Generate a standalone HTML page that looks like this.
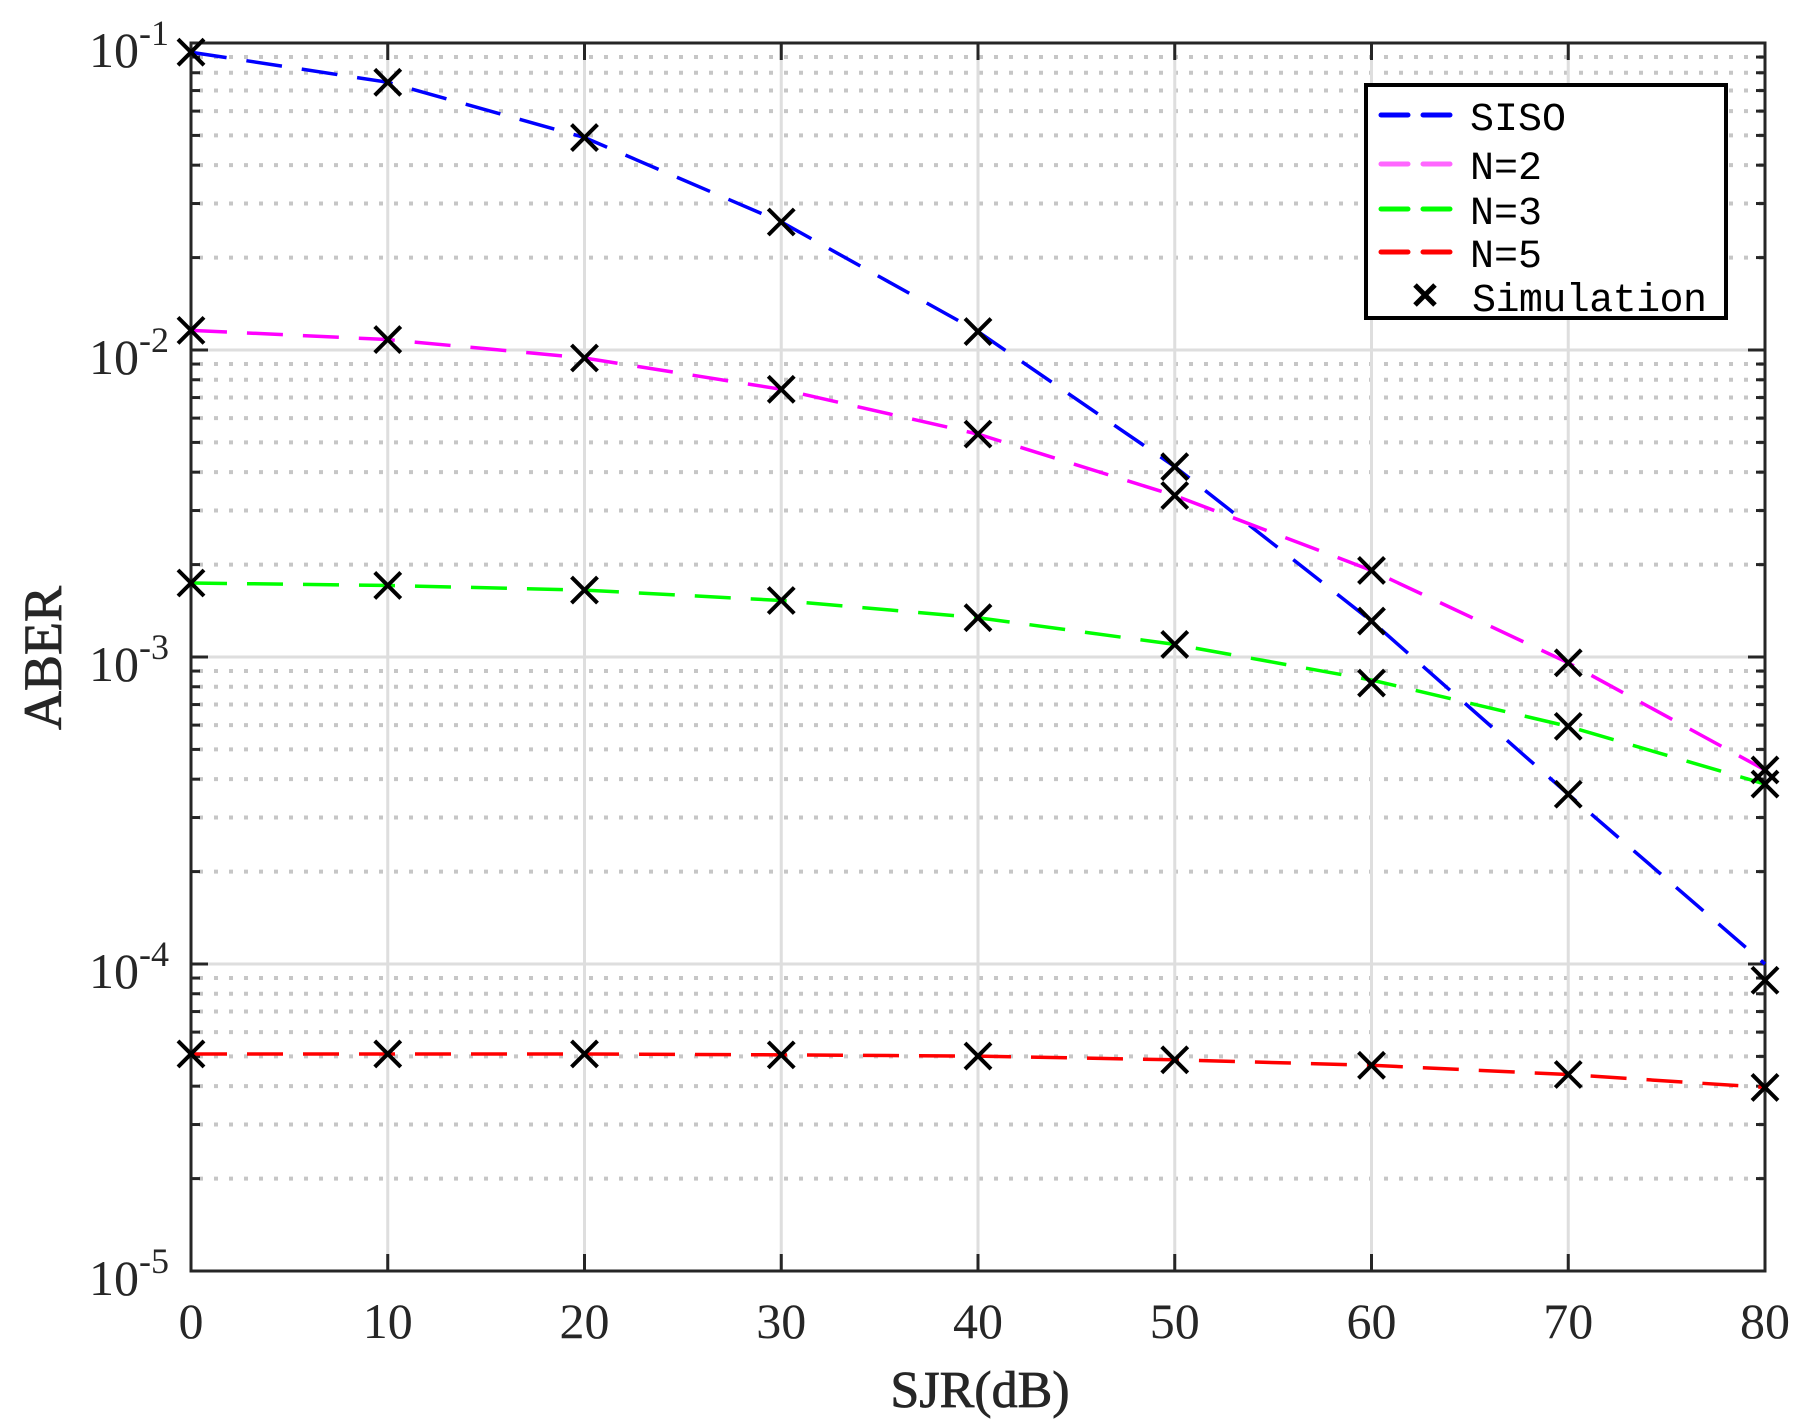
<!DOCTYPE html>
<html><head><meta charset="utf-8"><style>body{margin:0;background:#fff}svg{display:block}</style></head>
<body>
<svg id="s" width="1808" height="1428" xmlns="http://www.w3.org/2000/svg"></svg>
<script>
const L=191,R=1765,T=43,B=1271,D=307;
const X=v=>L+v*(R-L)/80, Y=l=>T+(-1-l)*D;
let h='<rect width="1808" height="1428" fill="#fff"/>';
for(let d=-5;d<-1;d++)for(let k=2;k<=9;k++){const y=Y(d+Math.log10(k));
h+=`<line x1="${L+8}" x2="${R}" y1="${y}" y2="${y}" stroke="#c6c6c6" stroke-width="4" stroke-dasharray="4,11"/>`;
h+=`<line x1="${L}" x2="${L+9}" y1="${y}" y2="${y}" stroke="#262626" stroke-width="3"/><line x1="${R-9}" x2="${R}" y1="${y}" y2="${y}" stroke="#262626" stroke-width="3"/>`;}
for(let d=-4;d<=-2;d++){const y=Y(d);h+=`<line x1="${L}" x2="${R}" y1="${y}" y2="${y}" stroke="#dedede" stroke-width="3"/><line x1="${L}" x2="${L+17}" y1="${y}" y2="${y}" stroke="#262626" stroke-width="3"/><line x1="${R-17}" x2="${R}" y1="${y}" y2="${y}" stroke="#262626" stroke-width="3"/>`;}
for(let v=10;v<80;v+=10){const x=X(v);h+=`<line x1="${x}" x2="${x}" y1="${T}" y2="${B}" stroke="#dedede" stroke-width="3"/><line x1="${x}" x2="${x}" y1="${T}" y2="${T+17}" stroke="#262626" stroke-width="3"/><line x1="${x}" x2="${x}" y1="${B-17}" y2="${B}" stroke="#262626" stroke-width="3"/>`;}
h+=`<rect x="${L}" y="${T}" width="${R-L}" height="${B-T}" fill="none" stroke="#262626" stroke-width="3"/>`;
const data={
'#0000ff':[-1.03,-1.128,-1.308,-1.583,-1.94,-2.38,-2.883,-3.447,-4.0],
'#ff00ff':[-1.936,-1.966,-2.026,-2.128,-2.274,-2.474,-2.718,-3.019,-3.368],
'#00ff00':[-2.759,-2.767,-2.782,-2.816,-2.872,-2.959,-3.075,-3.226,-3.414],
'#ff0000':[-4.293,-4.293,-4.293,-4.296,-4.30,-4.312,-4.33,-4.36,-4.402]};
const sim={'#0000ff':[-1.03,-1.128,-1.308,-1.583,-1.94,-2.38,-2.883,-3.447,-4.053],
'#00ff00':[-2.759,-2.767,-2.782,-2.816,-2.872,-2.959,-3.085,-3.226,-3.414]};
function cross(x,y){return `<path d="M${x-13} ${y-13}L${x+13} ${y+13}M${x-13} ${y+13}L${x+13} ${y-13}" stroke="#000" stroke-width="4"/>`;}
for(const c in data){const a=data[c];
h+=`<polyline fill="none" stroke="${c}" stroke-width="3.5" stroke-dasharray="36,20" points="${a.map((l,i)=>X(i*10)+','+Y(l)).join(' ')}"/>`;}
for(const c in data){const a=sim[c]||data[c];a.forEach((l,i)=>h+=cross(X(i*10),Y(l)));}
const f='font-family="Liberation Serif, serif" fill="#262626"';
for(let v=0;v<=80;v+=10)h+=`<text x="${X(v)}" y="1338" ${f} font-size="50" text-anchor="middle">${v}</text>`;
for(let d=-1;d>=-5;d--){const y=Y(d);h+=`<text x="169" y="${y+24}" ${f} font-size="50" text-anchor="end">10<tspan font-size="36" dy="-22">${d}</tspan></text>`;}
h+=`<text x="980" y="1407" ${f} font-size="52" stroke="#262626" stroke-width="0.8" text-anchor="middle">SJR(dB)</text>`;
h+=`<text transform="translate(61,658) rotate(-90)" ${f} font-size="54" stroke="#262626" stroke-width="0.8" text-anchor="middle">ABER</text>`;
h+=`<rect x="1366" y="85" width="360" height="233" fill="#fff" stroke="#000" stroke-width="4"/>`;
const lg=[['#0000ff','SISO',115],['#ff66ff','N=2',164],['#00ff00','N=3',209],['#ff0000','N=5',252]];
lg.forEach(([c,t,y])=>{h+=`<line x1="1381" x2="1451" y1="${y}" y2="${y}" stroke="${c}" stroke-width="5" stroke-linecap="round" stroke-dasharray="27,15"/><text x="1470" y="${y+15}" font-family="Liberation Mono, monospace" font-size="40" fill="#000">${t}</text>`;});
h+=`<path d="M1415 285L1435 305M1415 305L1435 285" stroke="#000" stroke-width="5"/><text x="1472" y="311" font-family="Liberation Mono, monospace" font-size="40" fill="#000" textLength="235">Simulation</text>`;
document.getElementById('s').innerHTML=h;
</script>
</body></html>
